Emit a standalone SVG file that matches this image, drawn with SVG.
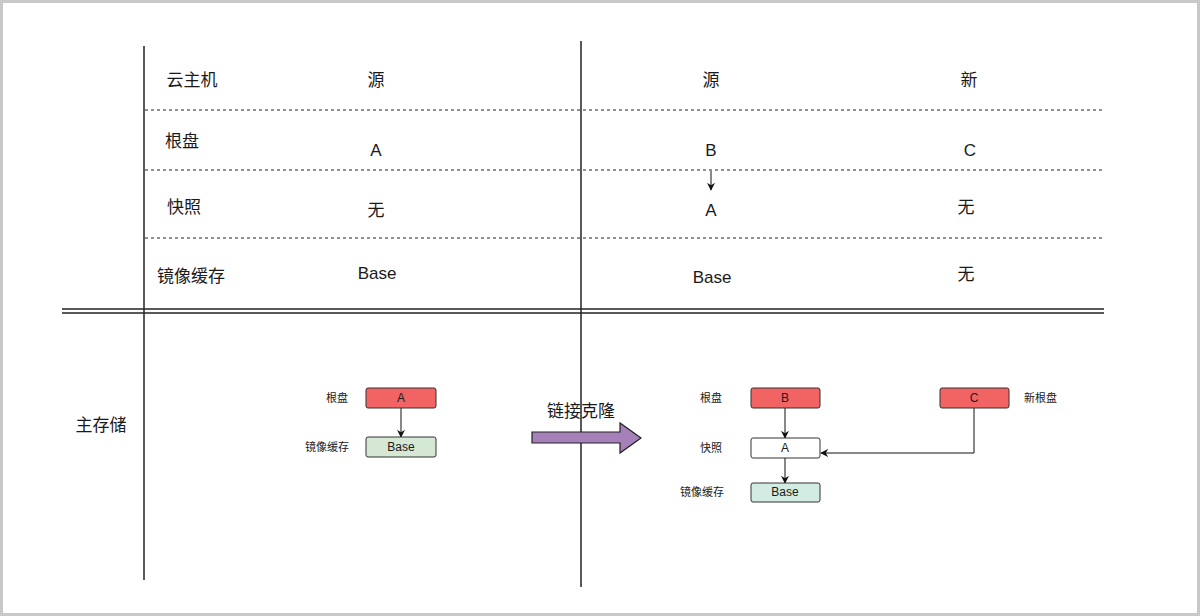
<svg xmlns="http://www.w3.org/2000/svg" width="1200" height="616" viewBox="0 0 1200 616">
<style>
text{font-family:"Liberation Sans","Noto Sans CJK SC",sans-serif;fill:#1a1a1a}
.t{font-size:17px;text-anchor:middle;dominant-baseline:central}
.s{font-size:11px;text-anchor:end;dominant-baseline:central}
.b{font-size:12px;text-anchor:middle;dominant-baseline:central}
.ln{stroke:#222;stroke-width:1.5;fill:none}
.dash{stroke:#222;stroke-width:1;stroke-dasharray:3 3;fill:none}
.box{stroke:#333;stroke-width:1}
.con{stroke:#111;stroke-width:1;fill:none;marker-end:url(#ah)}
</style>
<defs>
<marker id="ah" viewBox="0 0 10 10" refX="9" refY="5" markerWidth="8" markerHeight="8" orient="auto" markerUnits="userSpaceOnUse">
<path d="M0,0 L10,5 L0,10 L3,5 Z" fill="#111"/>
</marker>
</defs>
<rect x="0" y="0" width="1200" height="616" fill="#fff"/>
<rect x="1.5" y="1.5" width="1197" height="613" fill="none" stroke="#c8c8c8" stroke-width="3"/>
<g id="grid">
<line class="ln" x1="144" y1="46" x2="144" y2="580"/>
<line class="ln" x1="581" y1="41" x2="581" y2="587"/>
<line class="dash" x1="145" y1="110" x2="1104" y2="110"/>
<line class="dash" x1="145" y1="170" x2="1104" y2="170"/>
<line class="dash" x1="145" y1="238" x2="1104" y2="238"/>
<line stroke="#222" stroke-width="1.3" x1="62" y1="309" x2="1104" y2="309"/>
<line stroke="#222" stroke-width="1.3" x1="62" y1="313" x2="1104" y2="313"/>
</g>
<g id="table-text">
<text class="t" x="192" y="80">云主机</text>
<text class="t" x="376" y="80">源</text>
<text class="t" x="711" y="80">源</text>
<text class="t" x="969" y="80">新</text>
<text class="t" x="182" y="141">根盘</text>
<text class="t" x="376" y="150">A</text>
<text class="t" x="711" y="150">B</text>
<text class="t" x="970" y="150">C</text>
<text class="t" x="184" y="207">快照</text>
<text class="t" x="376" y="210">无</text>
<text class="t" x="711" y="210">A</text>
<text class="t" x="966" y="207">无</text>
<text class="t" x="191" y="276">镜像缓存</text>
<text class="t" x="377" y="273">Base</text>
<text class="t" x="712" y="277">Base</text>
<text class="t" x="966" y="274">无</text>
<text class="t" x="101" y="425">主存储</text>
</g>
<g id="connectors">
<line class="con" x1="711" y1="171" x2="711" y2="190"/>
<line class="con" x1="401" y1="408" x2="401" y2="437"/>
<line class="con" x1="785" y1="408" x2="785" y2="438"/>
<line class="con" x1="785" y1="458" x2="785" y2="483"/>
<polyline class="con" points="974,408 974,453 821,453"/>
</g>
<g id="left-root">
<rect class="box" x="366" y="388" width="70" height="20" rx="2" fill="#f26363"/>
<text class="b" x="401" y="398">A</text>
<text class="s" x="348" y="398">根盘</text>
</g>
<g id="left-base">
<rect class="box" x="366" y="437" width="70" height="20" rx="2" fill="#d5e8d4"/>
<text class="b" x="401" y="447">Base</text>
<text class="s" x="349" y="447">镜像缓存</text>
</g>
<g id="clone-arrow">
<path d="M532,432 L620,432 L620,423 L641,438 L620,453 L620,443 L532,443 Z" fill="#a680b8" stroke="#222" stroke-width="1.2"/>
<text x="581" y="411" font-size="17" text-anchor="middle" dominant-baseline="central">链接克隆</text>
</g>
<g id="right-root">
<rect class="box" x="751" y="388" width="69" height="20" rx="2" fill="#f26363"/>
<text class="b" x="785" y="398">B</text>
<text class="s" x="722" y="398">根盘</text>
</g>
<g id="right-snap">
<rect class="box" x="751" y="438" width="69" height="20" rx="2" fill="#fff"/>
<text class="b" x="785" y="448">A</text>
<text class="s" x="722" y="448">快照</text>
</g>
<g id="right-base">
<rect class="box" x="751" y="483" width="69" height="19" rx="2" fill="#d3ece3"/>
<text class="b" x="785" y="492">Base</text>
<text class="s" x="724" y="492">镜像缓存</text>
</g>
<g id="new-root">
<rect class="box" x="940" y="388" width="69" height="20" rx="2" fill="#f26363"/>
<text class="b" x="974" y="398">C</text>
<text x="1024" y="398" font-size="11" dominant-baseline="central">新根盘</text>
</g>
</svg>
